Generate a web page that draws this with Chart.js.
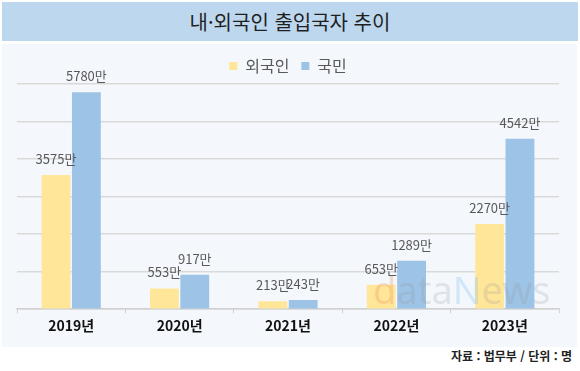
<!DOCTYPE html>
<html lang="ko">
<head>
  <meta charset="UTF-8">
  <title>내·외국인 출입국자 추이</title>
  <script src="https://cdn.jsdelivr.net/npm/chart.js"></script>
  <style>
    html, body {
      margin: 0;
      padding: 0;
      background: #ffffff;
      font-family: 'Noto Sans CJK KR', 'Noto Sans', sans-serif;
    }
    .wrap {
      position: relative;
      width: 580px;
      height: 371px;
    }
    .title-bar {
      position: absolute;
      left: 2px;
      top: 2px;
      width: 576px;
      height: 39px;
      background: #bdd7ee;
      color: #1f1f1f;
      font-size: 20px;
      line-height: 39px;
      text-align: center;
    }
    .panel {
      position: absolute;
      left: 2px;
      top: 44px;
      width: 575px;
      height: 303px;
      background: #f4f8fd;
    }
    .source {
      position: absolute;
      right: 8px;
      top: 347px;
      font-size: 12px;
      font-weight: bold;
      color: #222;
    }
  </style>
</head>
<body>
  <div class="wrap">
    <div class="title-bar">내·외국인 출입국자 추이</div>
    <div class="panel">
      <canvas id="chart" width="575" height="303"></canvas>
    </div>
    <div class="source">자료 : 법무부 / 단위 : 명</div>
  </div>

  <script>
    // 데이터 (단위: 만 명)
    const years = ['2019년', '2020년', '2021년', '2022년', '2023년'];
    const foreigners = [3575, 553, 213, 653, 2270];
    const citizens = [5780, 917, 243, 1289, 4542];

    // 막대 위 값 표시
    const valueLabels = {
      id: 'valueLabels',
      afterDatasetsDraw(chart) {
        const ctx = chart.ctx;
        ctx.save();
        ctx.font = '13px "Noto Sans CJK KR", sans-serif';
        ctx.fillStyle = '#595959';
        ctx.textAlign = 'center';
        ctx.textBaseline = 'middle';
        chart.data.datasets.forEach((ds, i) => {
          chart.getDatasetMeta(i).data.forEach((bar, j) => {
            ctx.fillText(ds.data[j] + '만', bar.x, bar.y - 16);
          });
        });
        ctx.restore();
      }
    };

    // 워터마크 (막대 위에 반투명하게)
    const watermark = {
      id: 'watermark',
      afterDatasetsDraw(chart) {
        const ctx = chart.ctx;
        ctx.save();
        ctx.font = '38px "Noto Sans", sans-serif';
        ctx.textBaseline = 'alphabetic';
        let x = 371;
        const y = 260;
        const parts = [['d', 'rgba(235,150,100,0.3)'], ['ata', 'rgba(150,150,150,0.22)'],
                       ['N', 'rgba(130,190,240,0.3)'], ['ews', 'rgba(150,150,150,0.22)']];
        parts.forEach(([t, c]) => {
          ctx.fillStyle = c;
          ctx.fillText(t, x, y);
          x += ctx.measureText(t).width;
        });
        ctx.restore();
      }
    };

    new Chart(document.getElementById('chart'), {
      type: 'bar',
      data: {
        labels: years,
        datasets: [
          {
            label: '외국인',
            data: foreigners,
            backgroundColor: '#ffe699',
            categoryPercentage: 0.56,
            barPercentage: 0.95
          },
          {
            label: '국민',
            data: citizens,
            backgroundColor: '#9dc3e6',
            categoryPercentage: 0.56,
            barPercentage: 0.95
          }
        ]
      },
      options: {
        responsive: false,
        animation: false,
        layout: {
          padding: { left: 15, right: 18, top: 2, bottom: 9 }
        },
        plugins: {
          legend: {
            position: 'top',
            labels: {
              boxWidth: 8,
              boxHeight: 8,
              padding: 12,
              color: '#595959',
              font: { size: 16, family: '"Noto Sans CJK KR", sans-serif' }
            }
          },
          tooltip: { enabled: false }
        },
        scales: {
          x: {
            grid: {
              drawOnChartArea: false,
              drawTicks: true,
              tickLength: 4,
              offset: true,
              color: '#d0d0d0'
            },
            border: { display: true, color: '#d0d0d0', width: 1.5 },
            ticks: {
              color: '#111',
              padding: 4,
              font: { size: 14, weight: 'bold', family: '"Noto Sans CJK KR", sans-serif' }
            }
          },
          y: {
            min: 0,
            max: 6000,
            ticks: { stepSize: 1000, display: false },
            border: { display: false },
            grid: { color: '#d9d9d9', lineWidth: 1.5, drawTicks: false }
          }
        }
      },
      plugins: [watermark, valueLabels]
    });
  </script>
</body>
</html>
